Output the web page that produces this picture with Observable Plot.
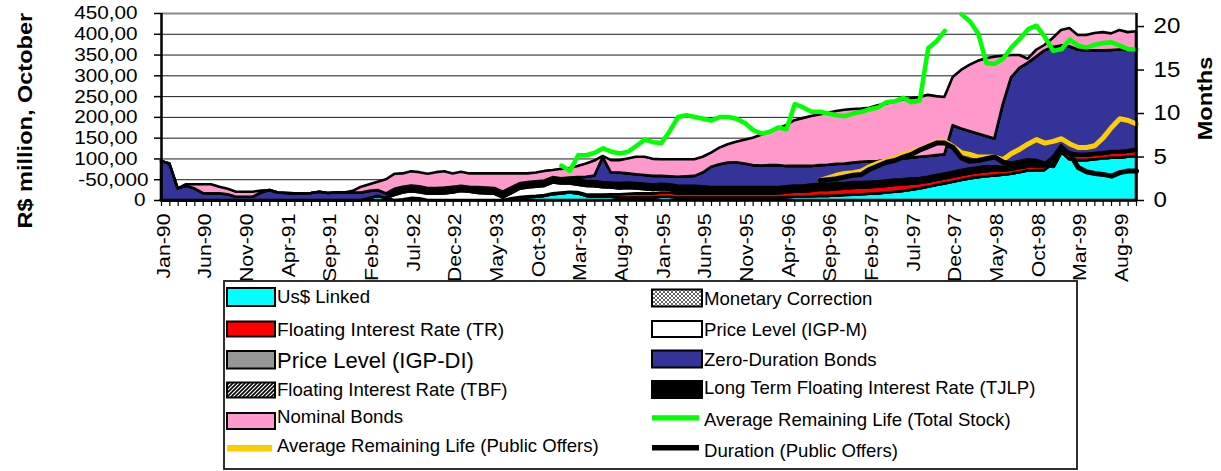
<!DOCTYPE html>
<html>
<head>
<meta charset="utf-8">
<script src="https://cdn.jsdelivr.net/npm/d3@7"></script>
<script src="https://cdn.jsdelivr.net/npm/@observablehq/plot@0.6"></script>
<style>
  html, body { margin: 0; padding: 0; background: #fff; width: 1221px; height: 471px; overflow: hidden; }
  #chart svg { display: block; }
</style>
</head>
<body>
<div id="chart"></div>
<script>
// ---------- categories (monthly, Jan-90 .. Oct-99) ----------
const categories = d3.utcMonth
  .range(new Date(Date.UTC(1990, 0, 1)), new Date(Date.UTC(1999, 10, 1)))
  .map(d3.utcFormat("%b-%y"));

const xTickLabels = ["Jan-90","Jun-90","Nov-90","Apr-91","Sep-91","Feb-92","Jul-92","Dec-92",
  "May-93","Oct-93","Mar-94","Aug-94","Jan-95","Jun-95","Nov-95","Apr-96","Sep-96","Feb-97",
  "Jul-97","Dec-97","May-98","Oct-98","Mar-99","Aug-99"];

const leftTicks = [0, 50, 100, 150, 200, 250, 300, 350, 400, 450];
const leftTickLabels = ["0", "-50,000", "100,00", "150,00", "200,00", "250,00", "300,00", "350,00", "400,00", "450,00"];
const rightTicks = [0, 5, 10, 15, 20];
const rightTickLabels = ["0", "5", "10", "15", "20"];
const monthsMax = 21.5;

const yTitle = "R$ million, October";
const rightTitle = "Months";

// ---------- stacked series (R$ million), one value per month ----------
const usLinked = [
  0,0,0,0,0,0,0,0,0,0,0,0,
  0,0,0,0,0,0,0,0,0,0,0,0,
  0,5,10,5,0,0,2,2,0,0,0,0,
  0,0,0,0,0,0,2,5,7,8,10,14,
  16,18,16,10,8,8,8,6,6,6,6,6,
  8,8,6,6,6,6,6,6,6,6,6,6,
  6,6,6,7,8,8,9,10,10,11,12,13,
  14,15,16,18,20,22,25,28,32,36,40,44,
  48,52,55,57,59,61,63,67,71,72,72,88,
  116,98,96,96,98,100,102,102,104,106];

const monetaryCorrection = [
  0,0,0,0,0,0,0,0,0,0,0,0,
  0,0,0,0,0,0,0,0,0,0,0,0,
  0,0,0,0,0,0,0,0,0,0,0,0,
  0,0,0,0,0,0,0,0,0,0,0,0,
  0,0,0,0,0,0,0,0,0,0,0,0,
  0,0,0,0,0,0,0,0,0,0,0,0,
  0,0,0,0,0,0,0,0,0,0,0,0,
  0,0,0,0,0,0,0,0,0,0,0,0,
  0,0,0,0,0,0,0,0,0,0,0,0,
  0,0,0,0,0,0,0,0,0,0];

const floatingTR = [
  0,0,0,0,0,0,0,0,0,0,0,0,
  0,0,0,0,0,0,0,0,0,0,0,0,
  0,0,0,0,0,2,3,2,0,0,0,0,
  0,0,0,0,0,0,2,2,2,2,2,2,
  2,2,3,4,5,5,6,8,9,10,10,10,
  10,10,10,10,10,10,10,10,10,10,10,10,
  10,10,10,11,12,12,13,14,14,15,15,16,
  16,16,16,16,16,15,14,13,12,12,12,12,
  12,12,12,12,12,11,10,10,9,9,9,10,
  12,12,11,11,11,11,12,12,12,13];

const priceIGPM = [
  0,0,0,0,0,0,0,0,0,0,0,0,
  0,0,0,0,0,0,0,0,0,0,0,0,
  0,0,0,0,12,16,16,15,15,15,16,18,
  22,20,17,16,15,6,12,20,21,22,22,26,
  22,20,18,20,20,18,16,14,14,12,10,8,
  8,7,6,5,5,4,3,3,3,3,3,3,
  3,3,3,3,3,3,3,3,3,3,2,2,
  1,1,1,1,1,1,1,0,0,0,0,0,
  0,0,0,0,0,0,0,0,0,0,0,0,
  0,0,0,0,0,0,0,0,0,0];

const tjlp = [
  0,0,0,0,0,0,0,0,0,0,0,0,
  0,0,0,0,0,0,0,0,0,0,0,0,
  0,0,0,0,12,14,14,14,14,14,14,14,
  12,12,14,14,14,14,14,13,13,13,13,13,
  12,12,12,12,12,12,12,13,13,13,13,13,
  13,13,13,13,13,13,12,12,12,12,12,12,
  12,12,12,12,12,12,12,12,12,12,12,12,
  12,12,12,12,12,12,12,12,12,12,12,12,
  12,12,12,12,10,8,8,8,8,8,6,6,
  4,4,4,4,4,4,4,4,4,4];

const priceIGPDI = [
  0,0,0,0,0,0,0,0,0,0,0,0,
  0,0,0,0,0,0,0,0,0,0,0,0,
  0,0,0,0,0,0,0,0,0,0,0,0,
  0,0,0,0,0,0,0,0,0,0,0,0,
  0,0,0,0,0,0,0,0,0,0,0,0,
  0,0,0,0,0,0,0,0,0,0,0,0,
  0,0,0,0,0,0,0,0,0,0,0,0,
  0,0,0,0,0,0,0,0,0,0,0,0,
  0,0,0,0,0,0,0,0,0,0,0,0,
  0,0,0,0,0,0,0,0,0,0];

const zeroDuration = [
  94,88,28,34,28,17,16,16,14,8,8,8,
  18,24,18,17,16,16,17,20,17,18,18,18,
  18,17,14,11,3,0,0,0,0,0,0,0,
  0,0,0,0,0,0,0,0,0,0,0,0,
  0,2,6,10,14,60,24,25,22,21,21,21,
  19,19,21,23,24,33,49,55,59,60,57,53,
  52,53,53,49,47,47,45,45,46,46,47,47,
  49,49,49,49,49,50,50,51,50,48,46,112,
  100,90,81,73,67,150,214,233,242,256,273,264,
  240,256,251,249,247,245,243,244,241,239];

const floatingTBF = [
  0,0,0,0,0,0,0,0,0,0,0,0,
  0,0,0,0,0,0,0,0,0,0,0,0,
  0,0,0,0,0,0,0,0,0,0,0,0,
  0,0,0,0,0,0,0,0,0,0,0,0,
  0,0,0,0,0,0,0,0,0,0,0,0,
  0,0,0,0,0,0,0,0,0,0,0,0,
  0,0,0,0,0,0,0,0,0,0,0,0,
  0,0,0,0,0,0,0,0,0,0,0,0,
  0,0,0,0,0,0,0,0,0,0,0,0,
  0,0,0,0,0,0,0,0,0,0];

const nominalBonds = [
  0,0,0,4,10,21,22,16,13,12,12,12,
  5,0,0,0,0,0,0,0,0,0,0,4,
  14,16,20,34,36,32,34,34,34,38,39,32,
  34,32,33,34,35,44,34,24,21,21,23,17,
  23,23,27,32,36,3,30,30,36,42,44,41,
  40,41,42,41,40,38,34,40,44,49,57,66,
  74,80,88,98,110,115,120,122,125,127,129,129,
  128,129,134,136,139,142,143,144,147,142,138,116,
  141,159,175,187,197,117,54,31,10,16,13,22,
  37,44,35,37,42,44,40,47,43,44];

// ---------- line series (months, right axis) ----------
const totalStockStart = "Jan-94";
const avgLifeTotalStock = [
  4.0,3.4,5.2,5.2,5.5,6.0,5.6,5.4,5.6,6.3,7.0,6.7,
  6.6,8.0,9.6,9.8,9.6,9.4,9.2,9.6,9.6,9.4,8.9,8.1,
  7.7,7.9,8.4,8.2,11.1,10.7,10.2,10.2,10.0,9.8,9.7,10.0,
  10.2,10.5,10.7,11.3,11.4,11.8,11.3,11.5,17.5,18.3,19.5,null,
  21.4,20.6,19.2,15.8,15.7,16.3,17.6,18.6,19.7,20.1,18.8,17.2,
  17.4,18.5,17.8,17.6,17.9,18.1,18.2,17.8,17.4,17.4];

const publicOffersStart = "Aug-96";
const avgLifePublicOffers = [
  2.3,2.6,2.9,3.1,3.2,
  3.4,3.9,4.3,4.6,4.9,5.3,5.6,5.9,6.3,6.8,6.8,6.2,
  5.5,5.3,5.0,5.0,5.0,4.7,5.4,5.9,6.5,7.0,6.6,6.8,
  7.1,6.5,6.1,6.1,6.3,7.2,8.4,9.4,9.2,8.8];
const durationPublicOffers = [
  2.3,2.4,2.5,2.7,2.9,
  3.0,3.6,4.0,4.4,4.6,5.0,5.3,5.8,6.2,6.6,6.6,6.1,
  4.9,4.5,4.6,4.8,5.0,4.4,4.2,4.4,4.6,4.5,4.2,4.0,
  5.8,5.4,3.8,3.3,3.1,3.0,2.8,3.2,3.4,3.4];

// ---------- build tables ----------
const stackSeries = [
  ["Us$ Linked", usLinked, "#00FFFF"],
  ["Monetary Correction", monetaryCorrection, "url(#pMC)"],
  ["Floating Interest Rate (TR)", floatingTR, "#FF0000"],
  ["Price Level (IGP-M)", priceIGPM, "#FFFFFF"],
  ["Long Term Floating Interest Rate (TJLP)", tjlp, "#000000"],
  ["Price Level (IGP-DI)", priceIGPDI, "#969696"],
  ["Zero-Duration Bonds", zeroDuration, "#333399"],
  ["Floating Interest Rate (TBF)", floatingTBF, "url(#pTBF)"],
  ["Nominal Bonds", nominalBonds, "#FF99CC"]
];
const names = stackSeries.map(d => d[0]);
const table = stackSeries.flatMap(([s, vals]) => vals.map((v, i) => ({i, s, v})));

const k = 450 / monthsMax;
const lineRows = (start, vals) => {
  const i0 = categories.indexOf(start);
  return vals.map((v, j) => ({i: i0 + j, y: v == null ? NaN : v * k}));
};
const greenRows = lineRows(totalStockStart, avgLifeTotalStock);
const yellowRows = lineRows(publicOffersStart, avgLifePublicOffers);
const durRows = lineRows(publicOffersStart, durationPublicOffers);

const leftLabel = t => leftTickLabels[leftTicks.indexOf(t)];
const rightLabel = d => rightTickLabels[rightTicks.findIndex(t => Math.abs(t * k - d) < 1e-6)];

const plot = Plot.plot({
  width: 1221,
  height: 280,
  marginTop: 13,
  marginBottom: 80,
  marginLeft: 161,
  marginRight: 85,
  style: {fontFamily: "'Liberation Sans', Arial, Helvetica, sans-serif", color: "#000", background: "#fff", overflow: "visible"},
  x: {domain: [0, categories.length - 1], label: null},
  y: {domain: [0, 450], label: null},
  color: {domain: names, range: stackSeries.map(d => d[2])},
  marks: [
    Plot.ruleY(leftTicks.filter(t => t > 0 && t < 450), {stroke: "#1a1a1a", strokeWidth: 1}),
    Plot.ruleY([450], {stroke: "#8a8a8a", strokeWidth: 2}),
    Plot.areaY(table, {x: "i", y: "v", z: "s", fill: "s", order: names, stroke: "#000", strokeWidth: 2.6, strokeLinejoin: "round"}),
    Plot.line(greenRows, {x: "i", y: "y", stroke: "#00FF00", strokeWidth: 4.5, strokeLinejoin: "round"}),
    Plot.line(yellowRows, {x: "i", y: "y", stroke: "#FFCC00", strokeWidth: 5, strokeLinejoin: "round"}),
    Plot.line(durRows, {x: "i", y: "y", stroke: "#000000", strokeWidth: 5, strokeLinejoin: "round"}),
    Plot.ruleX([0], {y1: 0, y2: 450, stroke: "#000", strokeWidth: 2.5}),
    Plot.ruleX([categories.length - 1], {y1: 0, y2: 450, stroke: "#000", strokeWidth: 2.5}),
    Plot.ruleY([0], {stroke: "#000", strokeWidth: 2.5}),
    Plot.axisY(leftTicks.filter(t => t >= 100), {anchor: "left", tickSize: 7, tickPadding: 17, tickFormat: leftLabel, fontSize: 18.5, strokeWidth: 1.5, label: null}),
    Plot.axisY([50], {anchor: "left", tickSize: 7, tickPadding: 6, tickFormat: leftLabel, fontSize: 18.5, strokeWidth: 1.5, label: null}),
    Plot.axisY([0], {anchor: "left", tickSize: 7, tickPadding: 9, tickFormat: leftLabel, fontSize: 18.5, strokeWidth: 1.5, label: null}),
    Plot.axisY(rightTicks.map(t => t * k), {anchor: "right", tickSize: 7, tickPadding: 10, tickFormat: rightLabel, fontSize: 21.5, strokeWidth: 1.5, label: null}),
    Plot.axisX(categories.map((c, i) => i), {anchor: "bottom", tickSize: 6, tickFormat: () => "", strokeWidth: 1.2, label: null}),
    Plot.text(xTickLabels, {x: d => categories.indexOf(d), frameAnchor: "bottom", dy: 13, dx: 2, rotate: -90, textAnchor: "end", lineAnchor: "middle", fontSize: 19, fill: "#000"}),
    Plot.text([yTitle], {frameAnchor: "bottom-left", dx: -130, dy: 28, rotate: -90, textAnchor: "start", lineAnchor: "bottom", fontSize: 21, fontWeight: "bold", fill: "#000"}),
    Plot.text([rightTitle], {frameAnchor: "top-right", dx: 75, dy: 85, rotate: -90, textAnchor: "middle", lineAnchor: "bottom", fontSize: 21, fontWeight: "bold", fill: "#000"})
  ]
});

// patterns for hatched series
const defs = d3.select(plot).insert("defs", ":first-child");
function addPatterns(defs, suffix) {
  const mc = defs.append("pattern").attr("id", "pMC" + suffix).attr("width", 4).attr("height", 4).attr("patternUnits", "userSpaceOnUse");
  mc.append("rect").attr("width", 4).attr("height", 4).attr("fill", "#fff");
  mc.append("path").attr("d", "M0,0L4,4M4,0L0,4").attr("stroke", "#666").attr("stroke-width", 1);
  const tb = defs.append("pattern").attr("id", "pTBF" + suffix).attr("width", 4).attr("height", 4).attr("patternUnits", "userSpaceOnUse");
  tb.append("rect").attr("width", 4).attr("height", 4).attr("fill", "#fff");
  tb.append("path").attr("d", "M-1,1L1,-1M0,4L4,0M3,5L5,3").attr("stroke", "#000").attr("stroke-width", 1.6);
}
addPatterns(defs, "");

document.getElementById("chart").append(plot);

// horizontally stretched axis typography, as in the original
plot.querySelectorAll("text").forEach(t => {
  const L = t.getComputedTextLength();
  if (L > 0) {
    t.setAttribute("textLength", (L * 1.12).toFixed(2));
    t.setAttribute("lengthAdjust", "spacingAndGlyphs");
  }
});

// ---------- legend (below the chart) ----------
const legendItems = [
  {label: "Us$ Linked", kind: "box", fill: "#00FFFF", x: 227, y: 8, w: 48, h: 18, tx: 277, ty: 23, fs: 18.6},
  {label: "Monetary Correction", kind: "box", fill: "url(#pMCL)", x: 652, y: 9.5, w: 50, h: 17, tx: 704, ty: 25, fs: 18.6},
  {label: "Floating Interest Rate (TR)", kind: "box", fill: "#FF0000", x: 227, y: 41.5, w: 48, h: 15, tx: 277, ty: 55.5, fs: 19.2},
  {label: "Price Level (IGP-M)", kind: "box", fill: "#FFFFFF", x: 652, y: 41, w: 50, h: 16, tx: 704, ty: 55.7, fs: 18.6},
  {label: "Price Level (IGP-DI)", kind: "box", fill: "#969696", x: 227, y: 71, w: 48, h: 17.5, tx: 277, ty: 88.3, fs: 22},
  {label: "Zero-Duration Bonds", kind: "box", fill: "#333399", x: 652, y: 70.5, w: 50, h: 17, tx: 704, ty: 86, fs: 18.6},
  {label: "Floating Interest Rate (TBF)", kind: "box", fill: "url(#pTBFL)", x: 227, y: 102.5, w: 48, h: 15, tx: 277, ty: 115.7, fs: 18.6},
  {label: "Long Term Floating Interest Rate (TJLP)", kind: "box", fill: "#000000", x: 652, y: 101, w: 50, h: 17, tx: 704, ty: 114, fs: 18.6},
  {label: "Nominal Bonds", kind: "box", fill: "#FF99CC", x: 227, y: 133, w: 48, h: 16, tx: 277, ty: 142.7, fs: 18.6},
  {label: "Average Remaining Life (Total Stock)", kind: "line", fill: "#00FF00", x: 652, y: 135.2, w: 47, h: 5.3, tx: 704, ty: 145.7, fs: 18.6},
  {label: "Average Remaining Life (Public Offers)", kind: "line", fill: "#FFCC00", x: 227, y: 165, w: 45, h: 6.5, tx: 277, ty: 171.7, fs: 18.6},
  {label: "Duration (Public Offers)", kind: "line", fill: "#000000", x: 652, y: 165, w: 47, h: 5.5, tx: 704, ty: 177.3, fs: 18.6}
];

const leg = d3.select("#chart").append("svg")
  .attr("width", 1221).attr("height", 191)
  .style("display", "block")
  .style("font-family", "'Liberation Sans', Arial, Helvetica, sans-serif");
addPatterns(leg.append("defs"), "L");
leg.append("rect").attr("x", 224).attr("y", 1).attr("width", 853).attr("height", 188)
  .attr("fill", "#fff").attr("stroke", "#1a1a1a").attr("stroke-width", 1.8);
legendItems.forEach(it => {
  if (it.kind === "box") {
    leg.append("rect").attr("x", it.x).attr("y", it.y).attr("width", it.w).attr("height", it.h)
      .attr("fill", it.fill).attr("stroke", "#000").attr("stroke-width", 2);
  } else {
    leg.append("rect").attr("x", it.x).attr("y", it.y).attr("width", it.w).attr("height", it.h).attr("fill", it.fill);
  }
  leg.append("text").attr("x", it.tx).attr("y", it.ty).attr("font-size", it.fs).attr("fill", "#000").text(it.label);
});
</script>
</body>
</html>
